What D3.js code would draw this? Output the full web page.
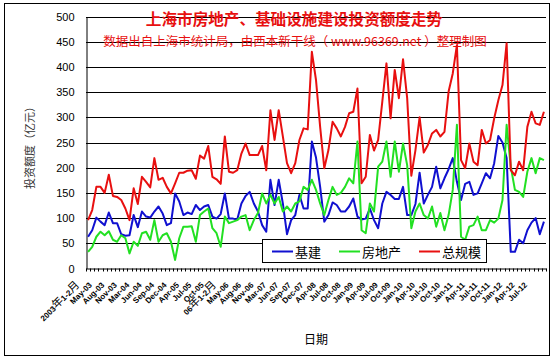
<!DOCTYPE html>
<html><head><meta charset="utf-8">
<script src="https://cdn.jsdelivr.net/npm/d3@7/dist/d3.min.js"></script>
<style>html,body{margin:0;padding:0;background:#fff;}svg{display:block;}</style>
</head><body>
<script>
const categories = [
"2003年1-2月","Mar-03","Apr-03","May-03","Jun-03","Jul-03","Aug-03","Sep-03","Oct-03","Nov-03","Dec-03",
"04年1-2月","Mar-04","Apr-04","May-04","Jun-04","Jul-04","Aug-04","Sep-04","Oct-04","Nov-04","Dec-04",
"05年1-2月","Mar-05","Apr-05","May-05","Jun-05","Jul-05","Aug-05","Sep-05","Oct-05","Nov-05","Dec-05",
"06年1-2月","Mar-06","Apr-06","May-06","Jun-06","Jul-06","Aug-06","Sep-06","Oct-06","Nov-06","Dec-06",
"07年1-2月","Mar-07","Apr-07","May-07","Jun-07","Jul-07","Aug-07","Sep-07","Oct-07","Nov-07","Dec-07",
"08年1-2月","Mar-08","Apr-08","May-08","Jun-08","Jul-08","Aug-08","Sep-08","Oct-08","Nov-08","Dec-08",
"Jan-09","Feb-09","Mar-09","Apr-09","May-09","Jun-09","Jul-09","Aug-09","Sep-09","Oct-09","Nov-09","Dec-09",
"Jan-10","Feb-10","Mar-10","Apr-10","May-10","Jun-10","Jul-10","Aug-10","Sep-10","Oct-10","Nov-10","Dec-10",
"Jan-11","Feb-11","Mar-11","Apr-11","May-11","Jun-11","Jul-11","Aug-11","Sep-11","Oct-11","Nov-11","Dec-11",
"Jan-12","Feb-12","Mar-12","Apr-12","May-12","Jun-12","Jul-12","Aug-12","Sep-12"
];
// 基建
const infra = [63,76,101,93,86,111,90,90,68,65,66,106,82,113,103,101,113,123,109,86,90,149,133,106,111,108,126,116,
123,126,103,99,108,149,99,99,97,129,144,152,129,113,86,73,176,126,176,129,68,96,106,146,119,119,252,
220,162,93,106,131,126,113,113,123,139,103,97,99,119,96,80,129,152,146,138,138,162,106,106,128,190,129,146,
162,202,159,179,197,219,172,136,168,172,146,149,169,189,179,209,263,250,219,33,33,57,50,76,91,100,68,93];
// 房地产
const realEstate = [33,43,63,73,66,74,57,53,66,60,30,53,45,70,73,57,96,53,66,70,53,17,60,83,83,84,53,106,
113,119,80,70,43,103,90,93,96,103,106,76,96,110,149,129,146,129,142,113,123,113,129,133,162,156,176,
156,129,106,136,162,146,150,162,179,169,252,76,70,129,113,202,212,252,182,252,192,248,205,80,113,129,106,99,
123,83,110,76,106,156,285,63,57,83,86,103,76,76,96,91,99,136,285,202,156,152,142,192,219,189,219,215];
// 总规模
const total = [96,116,162,162,150,186,144,142,136,119,96,159,128,182,172,161,219,176,180,162,149,169,190,190,194,195,178,224,
218,243,182,177,168,262,192,190,195,228,248,225,225,225,243,195,314,255,314,262,209,189,209,255,278,276,430,
374,281,199,235,291,278,262,281,308,311,357,169,182,265,234,255,331,407,298,394,338,415,338,184,235,300,230,245,
268,275,262,271,351,387,443,215,199,248,212,205,275,248,255,298,334,364,447,195,185,212,195,281,311,288,285,311];
const seriesNames = ["基建","房地产","总规模"];
const seriesColors = ["#1010d0","#22e022","#e81010"];
const yTicks = [0,50,100,150,200,250,300,350,400,450,500];

const W = 554, H = 359;
const svg = d3.select("body").append("svg").attr("width", W).attr("height", H);
svg.append("rect").attr("x",0).attr("y",0).attr("width",W).attr("height",H).attr("fill","#fff");
svg.append("rect").attr("x",4.5).attr("y",3.5).attr("width",545).attr("height",352)
  .attr("fill","none").attr("stroke","#000").attr("stroke-width",1);

const pL = 86, pR = 546, pT = 16.5, pB = 268.5;
const x = d3.scaleBand().domain(categories).range([pL, pR]).paddingInner(0).paddingOuter(0);
const y = d3.scaleLinear().domain([0, 500]).range([pB, pT]);
const cx = c => x(c) + x.bandwidth() / 2;

// gridlines
svg.append("g").selectAll("line").data(yTicks.filter(t => t > 0)).join("line")
  .attr("x1", pL).attr("x2", pR).attr("y1", d => Math.round(y(d)) + 0.5).attr("y2", d => Math.round(y(d)) + 0.5)
  .attr("stroke", "#000").attr("stroke-width", 1);

// y axis
const yAxis = svg.append("g").attr("transform", `translate(${pL + 0.5},0)`)
  .call(d3.axisLeft(y).tickValues(yTicks).tickSize(0).tickPadding(12).tickFormat(d3.format("d")));
yAxis.select(".domain").attr("stroke", "#000");
yAxis.selectAll("text").attr("font-family", "Liberation Sans, Arial, sans-serif").attr("font-size", 11).attr("fill", "#000");

// x axis
const xAxis = svg.append("g").attr("transform", `translate(0,${pB})`)
  .call(d3.axisBottom(x).tickValues([]).tickSize(0));
xAxis.select(".domain").attr("stroke", "#000");
svg.append("g").selectAll("line").data(categories).join("line")
  .attr("x1", d => Math.round(x(d)) + 0.5).attr("x2", d => Math.round(x(d)) + 0.5)
  .attr("y1", pB).attr("y2", pB + 3).attr("stroke", "#000");
svg.append("line").attr("x1", pR + 0.5).attr("x2", pR + 0.5).attr("y1", pB).attr("y2", pB + 3).attr("stroke", "#000");

// x tick labels (every third category)
const lab = svg.append("g");
categories.forEach((c, i) => {
  if (i % 3 !== 0) return;
  const t = lab.append("text")
    .attr("transform", `translate(${cx(c) - 8},${pB + 17}) rotate(-45)`)
    .attr("text-anchor", "end")
    .attr("font-family", "Liberation Sans, Arial, sans-serif")
    .attr("font-weight", "bold")
    .attr("font-size", 8)
    .attr("fill", "#000");
  const parts = c.split(/([年月])/).filter(s => s.length);
  parts.forEach(p => {
    const cjk = /[年月]/.test(p);
    t.append("tspan").text(p)
      .attr("font-size", cjk ? 11 : 8)
      .attr("font-weight", cjk ? "normal" : "bold")
      .attr("font-family", cjk ? "Noto Sans CJK SC, sans-serif" : "Liberation Sans, Arial, sans-serif");
  });
});

// lines
const allSeries = [infra, realEstate, total];
allSeries.forEach((vals, k) => {
  const line = d3.line().x((d, i) => cx(categories[i])).y(d => y(d));
  svg.append("path").datum(vals).attr("d", line)
    .attr("fill", "none").attr("stroke", seriesColors[k]).attr("stroke-width", 2)
    .attr("stroke-linejoin", "round");
});

// titles
svg.append("text").attr("x", 294).attr("y", 25).attr("text-anchor", "middle")
  .attr("font-family", "Noto Sans CJK SC, sans-serif").attr("font-weight", "bold").attr("font-size", 15.6)
  .attr("fill", "#e81010").text("上海市房地产、基础设施建设投资额度走势");
svg.append("text").attr("x", 295).attr("y", 46).attr("text-anchor", "middle")
  .attr("font-family", "Noto Sans CJK SC, sans-serif").attr("font-size", 12.5)
  .attr("fill", "#e81010").text("数据出自上海市统计局，由西本新干线（ www.96369.net ）整理制图");

// axis titles
svg.append("text").attr("transform", "translate(34,145) rotate(-90)").attr("text-anchor", "middle")
  .attr("font-family", "Noto Sans CJK SC, sans-serif").attr("font-size", 11).attr("fill", "#333")
  .text("投资额度（亿元）");
svg.append("text").attr("x", 316).attr("y", 344).attr("text-anchor", "middle")
  .attr("font-family", "Noto Sans CJK SC, sans-serif").attr("font-size", 12).attr("fill", "#000")
  .text("日期");

// legend
const lg = svg.append("g");
lg.append("rect").attr("x", 262.5).attr("y", 239.5).attr("width", 224).attr("height", 23)
  .attr("fill", "#fff").attr("stroke", "#000");
const legX = [272, 339, 419];
seriesNames.forEach((n, k) => {
  lg.append("line").attr("x1", legX[k]).attr("x2", legX[k] + 21).attr("y1", 251.5).attr("y2", 251.5)
    .attr("stroke", seriesColors[k]).attr("stroke-width", 2);
  lg.append("text").attr("x", legX[k] + 23).attr("y", 256.5)
    .attr("font-family", "Noto Sans CJK SC, sans-serif").attr("font-size", 13).attr("fill", "#000").text(n);
});
</script>
</body></html>
